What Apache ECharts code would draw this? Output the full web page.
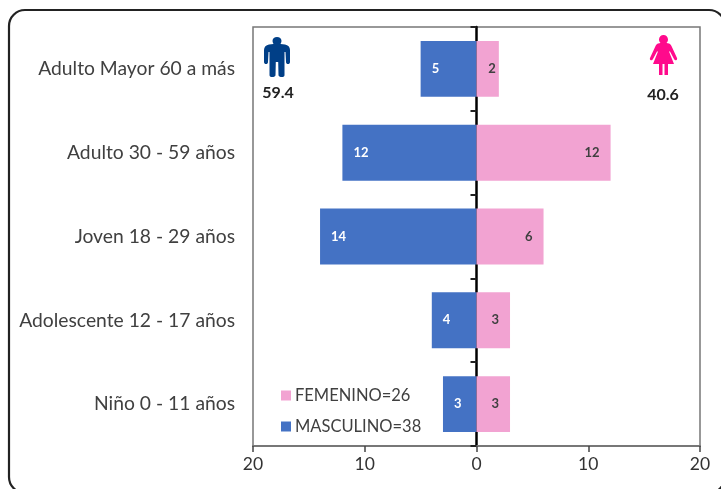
<!DOCTYPE html>
<html><head><meta charset="utf-8">
<style>html,body{margin:0;padding:0;background:#fff}#c{width:721px;height:489px}</style>
<script src="https://cdn.jsdelivr.net/npm/echarts@6/dist/echarts.min.js"></script>
</head><body><div id="c"></div>
<script>
const categories = ["Adulto Mayor 60 a más","Adulto 30 - 59 años","Joven 18 - 29 años","Adolescente 12 - 17 años","Niño 0 - 11 años"];
const masculino = [5,12,14,4,3];
const femenino = [2,12,6,3,3];
const legendMasculino = "MASCULINO=38";
const legendFemenino = "FEMENINO=26";
const pctMasculino = "59.4";
const pctFemenino = "40.6";
const F = "Lato, 'Open Sans', sans-serif";
const manPath = "M13 0C15.5 0 17.5 1.5 17.5 4C17.5 5 17 6 16.5 7L21 7.5C24 8 26 10 26 13L26 25C26 26.5 25 27 24 27C23 27 22 26.5 22 25L21.5 15L20.5 15L20.5 38C20.5 39.5 19.5 40 18 40C16 40 14.5 39.5 14.5 38L14.2 25L11.8 25L11.5 38C11.5 39.5 10 40 8 40C6.5 40 5.5 39.5 5.5 38L5.5 15L4.5 15L4 25C4 26.5 3 27 2 27C1 27 0 26.5 0 25L0 13C0 10 2 8 5 7.5L9.5 7C9 6 8.5 5 8.5 4C8.5 1.5 10.5 0 13 0Z";
const womanPath = "M13.5 0C16 0 18 2 18 4.5C18 6 17.3 7 16.5 8L19 8.5C20.5 9 21 10 21.7 11.5L27 23C27.4 24 27 25 26 25.2C25.2 25.4 24.5 25 24 24L20 16.5L19 16.5L24 29L18 29L18 40L14.5 40L14.5 29L12.5 29L12.5 40L9 40L9 29L3 29L8 16.5L7 16.5L3 24C2.5 25 1.8 25.4 1 25.2C0 25 -0.4 24 0 23L5.3 11.5C6 10 6.5 9 8 8.5L10.5 8C9.7 7 9 6 9 4.5C9 2 11 0 13.5 0Z";
echarts.graphic.registerShape('manIcon', echarts.graphic.extendPath(manPath, {}));
echarts.graphic.registerShape('womanIcon', echarts.graphic.extendPath(womanPath, {}));
const chart = echarts.init(document.getElementById('c'), null, {renderer:'canvas'});
chart.setOption({
  animation:false,
  backgroundColor:'#fff',
  textStyle:{fontFamily:F},
  grid:{left:253,right:21,top:27,bottom:43,outerBoundsMode:'none',show:true,borderColor:'#777',borderWidth:1.5,backgroundColor:'transparent'},
  legend:{
    orient:'vertical',left:276,top:382,itemWidth:10,itemHeight:10,itemGap:14,icon:'rect',
    data:[legendFemenino,legendMasculino],
    textStyle:{fontFamily:F,fontSize:16.5,lineHeight:17,color:'#404040',padding:[0,0,0,-1]}
  },
  xAxis:{
    type:'value',min:-20,max:20,interval:10,
    splitLine:{show:false},
    axisLine:{show:true,onZero:false,lineStyle:{color:'#777',width:2}},
    axisTick:{show:true,length:6,lineStyle:{color:'#444',width:1.5}},
    axisLabel:{fontFamily:F,fontSize:17.5,color:'#333',margin:9,formatter:v=>String(Math.abs(v))}
  },
  yAxis:{type:'category',data:categories,inverse:true,
     axisLine:{show:true,onZero:true,onZeroAxisIndex:0,lineStyle:{color:'#000',width:2.5}},
     axisTick:{show:true,length:6,lineStyle:{color:'#222',width:2}},
     axisLabel:{fontFamily:F,fontSize:19.3,color:'#404040',margin:18}},
  series:[
    {name:legendMasculino,type:'bar',barWidth:'66.7%',barGap:'-100%',z:2,
     itemStyle:{color:'#4472C4'},
     data:masculino.map(v=>-v),
     label:{show:true,position:'insideLeft',distance:11,color:'#fff',fontFamily:F,fontSize:13,fontWeight:'bold',formatter:p=>String(Math.abs(p.value))}},
    {name:legendFemenino,type:'bar',barWidth:'66.7%',barGap:'-100%',z:2,
     itemStyle:{color:'#F2A3D2'},
     data:femenino.map(v=>v<3?{value:v,label:{distance:3}}:v),
     label:{show:true,position:'insideRight',distance:11,color:'#404040',fontFamily:F,fontSize:13,fontWeight:'bold'}}
  ],
  graphic:[
    {type:'rect',z:0,silent:true,shape:{x:9,y:10,width:716,height:483,r:16},style:{fill:'none',stroke:'#222',lineWidth:2.2}},
    {type:'manIcon',z:10,x:264,y:37,style:{fill:'#003F87'}},
    {type:'womanIcon',z:10,x:650,y:35,style:{fill:'#FF0A8C'}},
    {type:'text',z:10,style:{x:278,y:93,text:pctMasculino,align:'center',verticalAlign:'middle',font:'bold 16px '+F,fill:'#222'}},
    {type:'text',z:10,style:{x:663,y:95,text:pctFemenino,align:'center',verticalAlign:'middle',font:'bold 16px '+F,fill:'#222'}}
  ]
});
</script></body></html>
